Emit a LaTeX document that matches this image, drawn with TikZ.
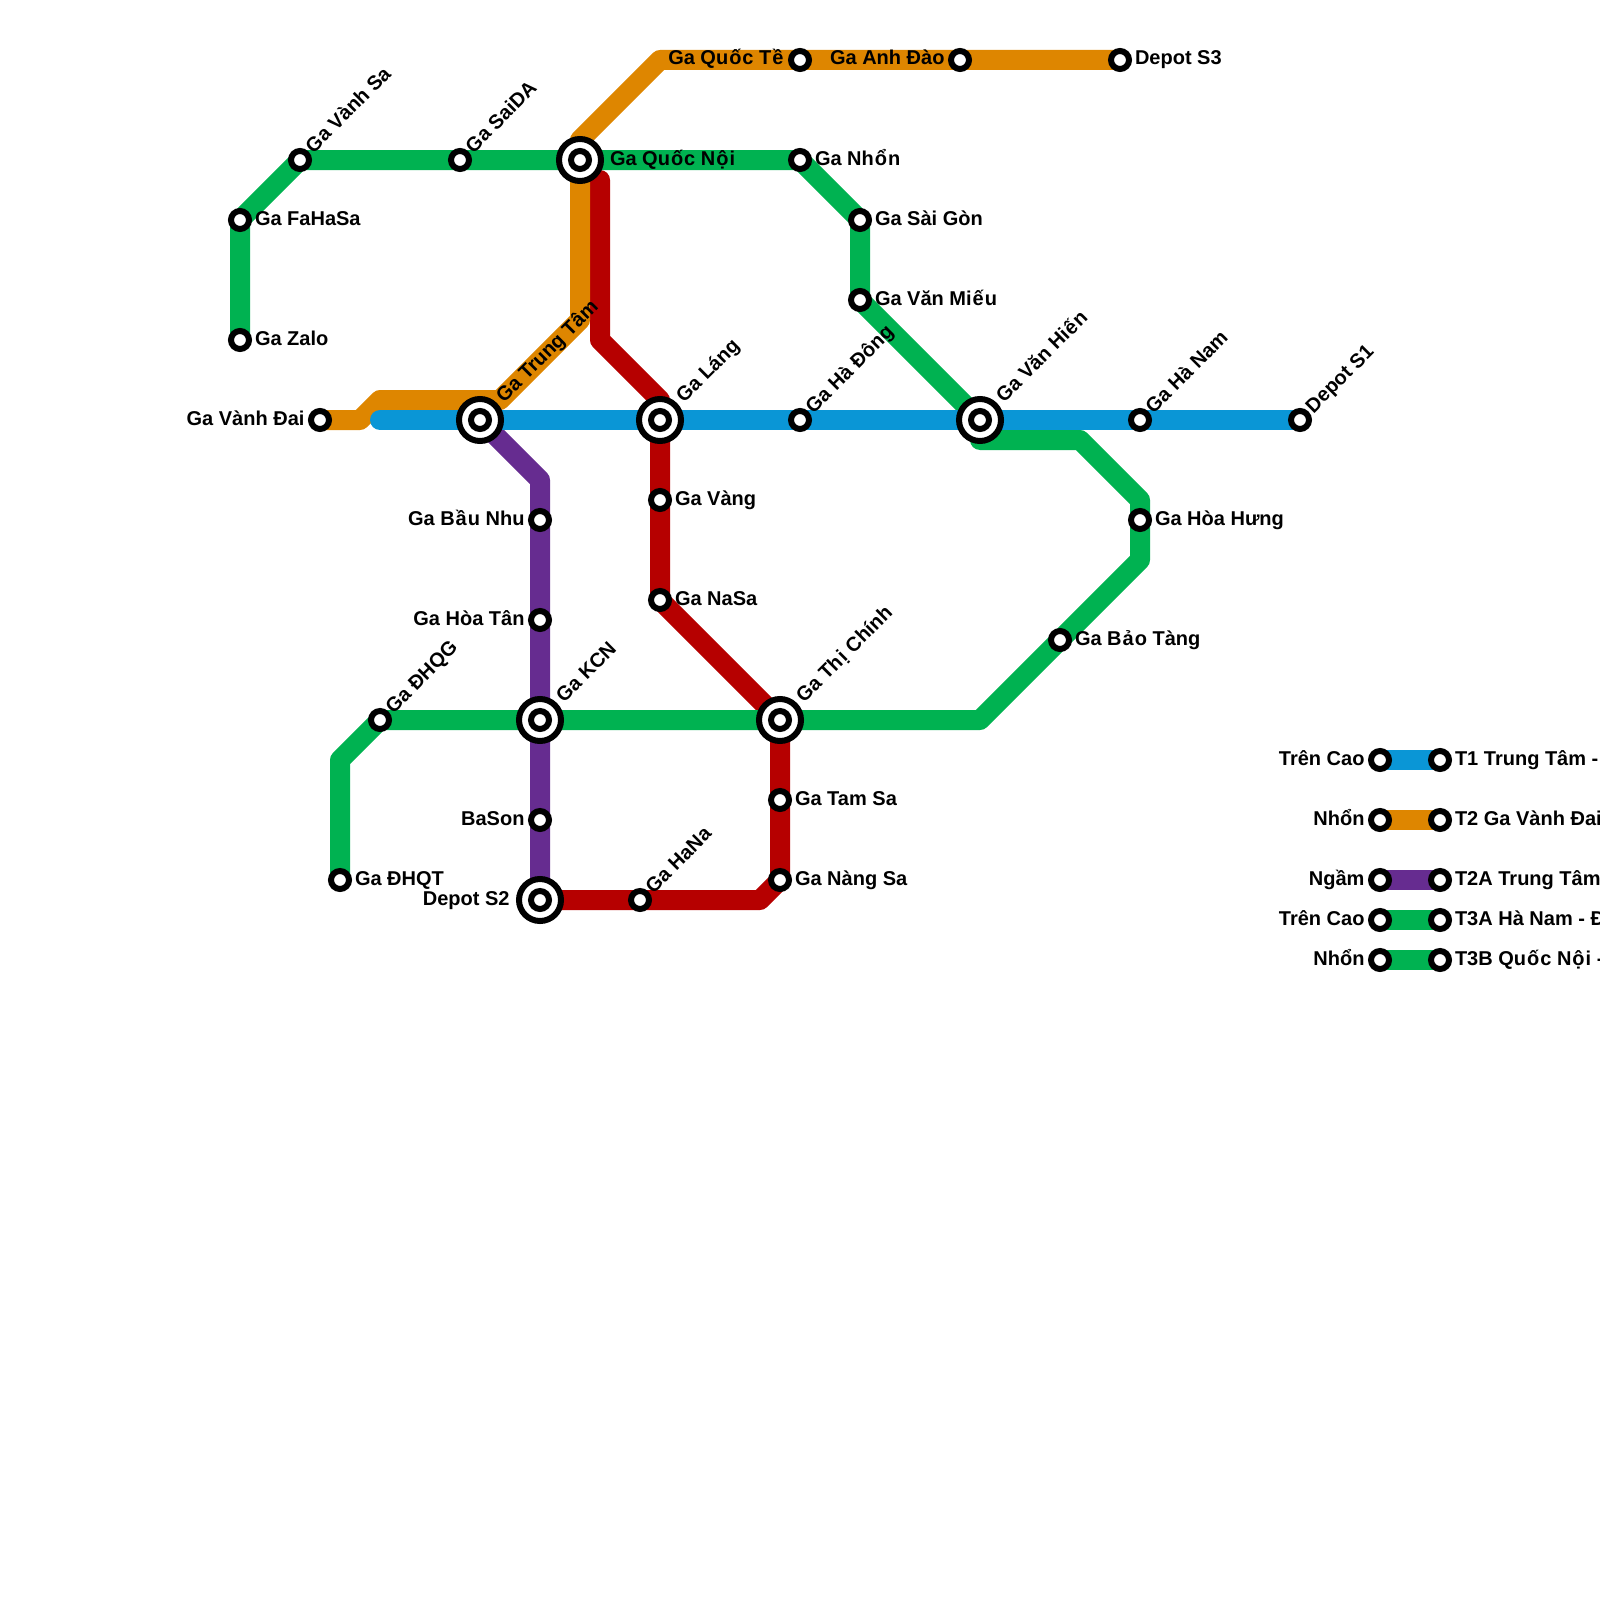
\documentclass[tikz,border=0pt]{standalone}
\usepackage{fontspec}
\setmainfont{Liberation Sans}[BoldFont={Liberation Sans Bold}]
\definecolor{tblue}{HTML}{0A96D6}
\definecolor{torange}{HTML}{DE8600}
\definecolor{tpurple}{HTML}{662C90}
\definecolor{tgreen}{HTML}{00B251}
\definecolor{tred}{HTML}{B60000}
\tikzset{
  x=1pt,y=-1pt,
  metro/.style={line width=20pt,line join=round,line cap=round},
  metrobutt/.style={line width=20pt,line join=round,line cap=butt},
  st/.style={circle,draw=black,fill=white,line width=6pt,minimum size=18pt,inner sep=0pt,outer sep=0pt},
  hubouter/.style={circle,draw=black,fill=white,line width=6pt,minimum size=42pt,inner sep=0pt,outer sep=0pt},
  lab/.style={font=\fontsize{20}{20}\selectfont\bfseries,inner sep=0pt,outer sep=0pt,text=black},
  lr/.style={lab,anchor=base west},
  ll/.style={lab,anchor=base east},
  ld/.style={lab,anchor=base west,rotate=45},
}
\newcommand{\hub}[3]{%
  \node[hubouter] (#1o) at (#2,#3) {};
  \node[st] (#1) at (#2,#3) {};
}
\newcommand{\wdk}[1]{\kern1pt\relax #1\kern1pt\relax}
\begin{document}
\begin{tikzpicture}
\useasboundingbox (0,0) rectangle (1600,1600);
\clip (0,0) rectangle (1600,1600);
% coordinates of stations
\foreach \n/\x/\y in {zalo/240/340,faha/240/220,vsa/300/160,said/460/160,qnoi/580/160,nhon/800/160,sgon/860/220,vmieu/860/300,vhien/980/420,hdong/800/420,lang/660/420,ttam/480/420,vdai/320/420,hnam/1140/420,ds1/1300/420,hhung/1140/520,btang/1060/640,tchinh/780/720,kcn/540/720,dhqg/380/720,dhqt/340/880,ds2/540/900,hana/640/900,nsa/780/880,tsa/780/800,vang/660/500,nasa/660/600,bnhu/540/520,htan/540/620,bason/540/820,qte/800/60,adao/960/60,ds3/1120/60,a1/1380/760,b1/1440/760,a2/1380/820,b2/1440/820,a3/1380/880,b3/1440/880,a4/1380/920,b4/1440/920,a5/1380/960,b5/1440/960}
  {\coordinate (c\n) at (\x,\y);}
% lines
\coordinate (rtop) at (600,180);
\coordinate (rb1) at (600,340);
\coordinate (rb2) at (660,400);
\coordinate (rb3) at (760,900);
\draw[metro,tred] (rtop) -- (rb1) -- (rb2) -- (cnasa) -- (ctchinh) -- (cnsa) -- (rb3) -- (cds2);
\coordinate (o1) at (360,420);
\coordinate (o2) at (380,400);
\coordinate (o3) at (500,400);
\coordinate (o4) at (580,320);
\coordinate (o5) at (580,140);
\coordinate (o6) at (660,60);
\draw[metro,torange] (cvdai) -- (o1) -- (o2) -- (o3) -- (o4) -- (o5) -- (o6) -- (cds3);
\draw[metro,tgreen] (czalo) -- (cfaha) -- (cvsa) -- (cnhon) -- (csgon) -- (cvmieu) -- (cvhien);
\coordinate (h1) at (340,760);
\coordinate (h2) at (980,720);
\coordinate (h3) at (1140,560);
\coordinate (h4) at (1140,500);
\coordinate (h5) at (1080,440);
\coordinate (h6) at (980,440);
\draw[metro,tgreen] (cdhqt) -- (h1) -- (cdhqg) -- (h2) -- (h3) -- (h4) -- (h5) -- (h6);
\coordinate (p1) at (540,480);
\draw[metro,tpurple] (cttam) -- (p1) -- (cds2);
\coordinate (bl) at (380,420);
\draw[metro,tblue] (bl) -- (cds1);
% legend lines
\draw[metrobutt,tblue] (ca1) -- (cb1);
\draw[metrobutt,torange] (ca2) -- (cb2);
\draw[metrobutt,tpurple] (ca3) -- (cb3);
\draw[metrobutt,tgreen] (ca4) -- (cb4);
\draw[metrobutt,tgreen] (ca5) -- (cb5);
% small stations
\foreach \n in {zalo,faha,vsa,said,nhon,sgon,vmieu,hdong,vdai,hnam,ds1,hhung,btang,dhqg,dhqt,hana,nsa,tsa,vang,nasa,bnhu,htan,bason,qte,adao,ds3,a1,b1,a2,b2,a3,b3,a4,b4,a5,b5}
  {\node[st] (\n) at (c\n) {};}
% interchange stations
\foreach \n/\x/\y in {qnoi/580/160,vhien/980/420,lang/660/420,ttam/480/420,tchinh/780/720,kcn/540/720,ds2/540/900}
  {\hub{\n}{\x}{\y}}
% labels: right
\foreach \n/\t in {zalo/Ga Zalo,faha/Ga FaHaSa,nhon/Ga Nh\wdk{ổ}n,sgon/Ga Sài Gòn,vmieu/Ga Văn Mi\wdk{ế}u,hhung/Ga Hòa Hưng,btang/Ga B\wdk{ả}o Tàng,dhqt/Ga ĐHQT,nsa/Ga Nàng Sa,tsa/Ga Tam Sa,vang/Ga Vàng,nasa/Ga NaSa,ds3/Depot S3,b1/T1 Trung Tâm -,b2/T2 Ga Vành Đai,b3/T2A Trung Tâm,b4/T3A Hà Nam - Đ,b5/T3B Qu\wdk{ố}c N\wdk{ộ}i -}
  {\path (c\n) ++(15,5) node[lr] (l\n) {\t};}
\path (cqnoi) ++(30,5) node[lr] (lqnoi) {Ga Qu\wdk{ố}c N\wdk{ộ}i};
% labels: left
\foreach \n/\t in {vdai/Ga Vành Đai,bnhu/Ga B\wdk{ầ}u Nhu,htan/Ga Hòa Tân,bason/BaSon,qte/Ga Qu\wdk{ố}c T\wdk{ề},adao/Ga Anh Đào,a1/Trên Cao,a2/Nhổn,a3/Ngầm,a4/Trên Cao,a5/Nhổn}
  {\path (c\n) ++(-15.5,5) node[ll] (l\n) {\t};}
\path (cds2) ++(-30.5,5) node[ll] (lds2) {Depot S2};
% labels: diagonal
\foreach \n/\t in {vsa/Ga Vành Sa,said/Ga SaiDA,hdong/Ga Hà Đông,hnam/Ga Hà Nam,ds1/Depot S1,dhqg/Ga ĐHQG,hana/Ga HaNa}
  {\path (c\n) ++(13.5,-6) node[ld] (l\n) {\t};}
\foreach \n/\t in {vhien/Ga Văn Hi\wdk{ế}n,lang/Ga Láng,ttam/Ga Trung Tâm,tchinh/Ga Th\wdk{ị} Chính,kcn/Ga KCN}
  {\path (c\n) ++(24,-16.5) node[ld] (l\n) {\t};}
\end{tikzpicture}
\end{document}
